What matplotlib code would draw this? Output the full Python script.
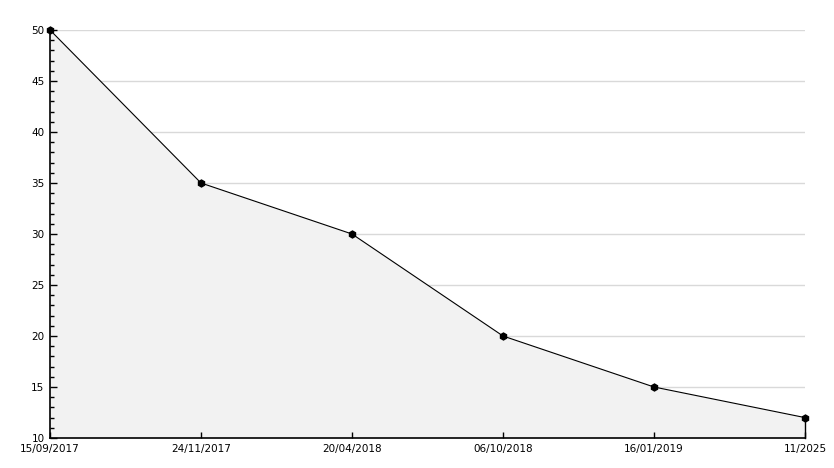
import matplotlib
matplotlib.use('Agg')
import matplotlib.pyplot as plt
from matplotlib.ticker import MultipleLocator

# chart data
dates = ['15/09/2017', '24/11/2017', '20/04/2018', '06/10/2018', '16/01/2019', '11/2025']
values = [50, 35, 30, 20, 15, 12]
y_grid = [15, 20, 25, 30, 35, 40, 45, 50]

fig = plt.figure(figsize=(8.34, 4.68), dpi=100)
ax = fig.add_axes([50 / 834, 30 / 468, 755 / 834, 408 / 468])

x = list(range(len(dates)))

# gridlines sit under the filled area
for g in y_grid:
    ax.axhline(g, color='#d9d9d9', linewidth=1, zorder=0.5)

ax.fill_between(x, values, 10, color='#f2f2f2', zorder=1, linewidth=0)
ax.plot([x[-1], x[-1]], [10, values[-1]], color='black', linewidth=1, zorder=3, clip_on=False)
ax.plot(x, values, color='black', linewidth=0.8, marker='h', markersize=5, zorder=4, clip_on=False)

ax.set_xlim(0, len(dates) - 1)
ax.set_ylim(10, 50)
ax.set_xticks(x)
ax.set_xticklabels(dates)
ax.yaxis.set_major_locator(MultipleLocator(5))
ax.yaxis.set_minor_locator(MultipleLocator(1))

for side in ['top', 'right']:
    ax.spines[side].set_visible(False)
ax.spines['left'].set_linewidth(1.2)
ax.spines['bottom'].set_linewidth(1.2)

ax.tick_params(axis='x', direction='in', length=4, width=1, labelsize=7.5, pad=4)
ax.tick_params(axis='y', which='major', direction='in', length=5, width=1, labelsize=7.5, pad=4)
ax.tick_params(axis='y', which='minor', direction='in', length=3, width=1)
for t in ax.yaxis.get_major_ticks():
    t.label1.set_va('center_baseline')

fig.savefig('out.png', dpi=100)
